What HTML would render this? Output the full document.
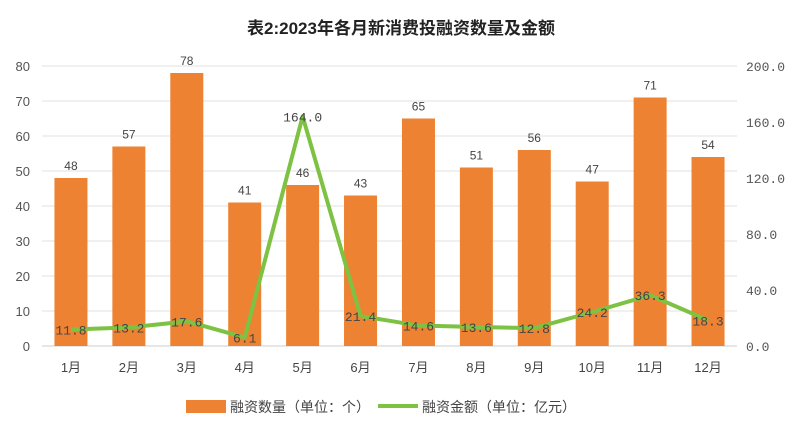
<!DOCTYPE html>
<html><head><meta charset="utf-8"><style>
body{margin:0;background:#fff;}
svg text{font-family:"Liberation Sans","Noto Sans CJK SC",sans-serif;}
svg text.mono{font-family:"Liberation Mono",monospace;}
</style></head><body>
<svg id="chart" width="802" height="432" xmlns="http://www.w3.org/2000/svg">
<text x="401" y="34" text-anchor="middle" font-size="17" font-weight="bold" fill="#222">表2:2023年各月新消费投融资数量及金额</text>
<g id="grid"></g><g id="bars"></g><g id="line"></g><g id="labels"></g><g id="axes"></g>
<g>
<rect x="186" y="400" width="40" height="13" fill="#ED8232"/>
<text x="230" y="412" font-size="14" fill="#444">融资数量（单位：个）</text>
<line x1="378" y1="406" x2="418" y2="406" stroke="#7DC242" stroke-width="4"/>
<text x="422" y="412" font-size="14" fill="#444">融资金额（单位：亿元）</text>
</g>
</svg>
<script>
const categories=["1月","2月","3月","4月","5月","6月","7月","8月","9月","10月","11月","12月"];
const counts=[48,57,78,41,46,43,65,51,56,47,71,54];
const amounts=[11.8,13.2,17.6,6.1,164.0,21.4,14.6,13.6,12.8,24.2,36.3,18.3];
const leftTicks=[0,10,20,30,40,50,60,70,80];
const rightTicks=[0,40,80,120,160,200];
const NS="http://www.w3.org/2000/svg";
const x0=42,x1=737,y0=346,yTop=66;
const band=(x1-x0)/categories.length;
const xc=i=>x0+band*(i+0.5);
const yL=v=>y0-(v/80)*(y0-yTop);
const yR=v=>y0-(v/200)*(y0-yTop);
function mk(tag,attrs,parent,txt){const e=document.createElementNS(NS,tag);for(const k in attrs)e.setAttribute(k,attrs[k]);if(txt!==undefined)e.textContent=txt;document.getElementById(parent).appendChild(e);return e;}
leftTicks.forEach(t=>{
 const g=mk('line',{x1:x0,x2:x1,y1:yL(t),y2:yL(t),stroke:t===0?'#ccc':'#e0e0e0','stroke-width':1},'grid');
 
 
 const l=mk('text',{x:30,y:yL(t)+5,'text-anchor':'end','font-size':13,fill:'#555'},'axes',t);
 
 
});
rightTicks.forEach(t=>{
 const l=mk('text',{x:746,y:yR(t)+5,'font-size':13,fill:'#555','class':'mono'},'axes',t.toFixed(1));
 
 
});
const bw=33;
categories.forEach((c,i)=>{
 const b=mk('rect',{x:xc(i)-bw/2,y:yL(counts[i]),width:bw,height:y0-yL(counts[i]),fill:'#ED8232'},'bars');
 
 
 const t=mk('text',{x:xc(i),y:yL(counts[i])-8,'text-anchor':'middle','font-size':12,fill:'#444'},'labels',counts[i]);
 
 
 const xl=mk('text',{x:xc(i),y:372,'text-anchor':'middle','font-size':13,fill:'#444'},'axes',c);
 
 
});
const pts=amounts.map((v,i)=>xc(i)+','+yR(v)).join(' ');
const pl=mk('polyline',{points:pts,fill:'none',stroke:'#7DC242','stroke-width':4,'stroke-linejoin':'round'},'line');


amounts.forEach((v,i)=>{
 const t=mk('text',{x:xc(i),y:yR(v)+5,'text-anchor':'middle','font-size':13,fill:'#444','class':'mono'},'labels',v.toFixed(1));
 
 
});
</script>
</body></html>
